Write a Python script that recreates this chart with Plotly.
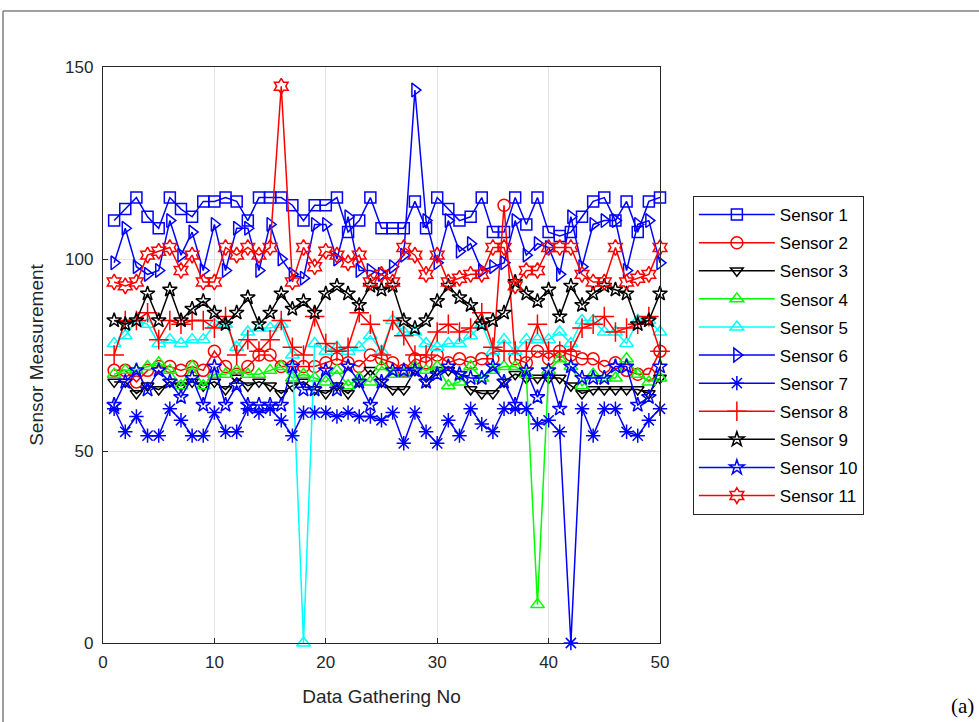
import plotly.graph_objects as go

x = list(range(1, 51))

sensor1 = [110, 113, 116, 111, 108, 116, 113, 111, 115, 115, 116, 115, 110, 116, 116, 116, 114, 110, 114, 114,
           116, 107, 110, 116, 108, 108, 108, 115, 108, 116, 113, 110, 111, 116, 107, 107, 116, 109, 116, 107,
           106, 107, 111, 115, 116, 110, 115, 107, 115, 116]
sensor2 = [71, 71, 68, 71, 72, 72, 71, 72, 71, 76, 72, 70, 72, 75, 75, 72, 72, 72, 72, 73,
           74, 73, 72, 75, 74, 73, 71, 74, 73, 75, 73, 74, 73, 74, 74, 114, 74, 73, 76, 74,
           76, 75, 74, 74, 72, 73, 71, 70, 70, 76]
sensor3 = [68, 68, 65, 67, 66, 68, 67, 68, 67, 68, 66, 69, 67, 68, 67, 65, 67, 68, 66, 65,
           67, 65, 68, 71, 68, 66, 66, 71, 68, 71, 71, 70, 66, 65, 65, 68, 70, 69, 69, 69,
           69, 67, 65, 66, 66, 66, 66, 66, 65, 69]
sensor4 = [70, 71, 71, 72, 73, 71, 67, 72, 67, 70, 70, 71, 70, 70, 71, 72, 69, 70, 69, 68,
           71, 67, 69, 68, 72, 70, 70, 72, 71, 72, 67, 68, 72, 69, 71, 72, 72, 70, 10, 71,
           74, 72, 67, 70, 69, 69, 74, 70, 68, 69]
sensor5 = [78, 80, 84, 83, 78, 79, 78, 79, 79, 83, 83, 77, 81, 82, 82, 83, 75, 0, 78, 76,
           77, 76, 77, 80, 76, 84, 81, 81, 78, 77, 78, 78, 80, 83, 76, 79, 76, 79, 79, 79,
           81, 78, 84, 84, 81, 81, 78, 84, 84, 81]
sensor6 = [99, 108, 98, 96, 97, 110, 101, 107, 97, 109, 97, 108, 108, 97, 109, 100, 96, 95, 109, 109,
           100, 111, 97, 97, 96, 98, 101, 144, 110, 99, 110, 102, 104, 97, 98, 99, 110, 101, 104, 103,
           96, 111, 98, 109, 110, 110, 97, 109, 110, 99]
sensor7 = [61, 55, 59, 54, 54, 61, 58, 54, 54, 60, 55, 55, 61, 60, 61, 58, 54, 60, 60, 60,
           59, 60, 59, 59, 58, 60, 52, 60, 55, 52, 58, 54, 61, 57, 55, 61, 61, 61, 57, 58,
           55, 0, 61, 54, 61, 61, 55, 54, 58, 61]
sensor8 = [75, 84, 84, 86, 79, 84, 83, 84, 84, 82, 85, 75, 79, 76, 79, 84, 77, 75, 85, 78,
           76, 77, 86, 83, 75, 84, 80, 75, 75, 81, 83, 81, 82, 86, 77, 76, 76, 76, 83, 76,
           76, 76, 82, 83, 85, 81, 82, 83, 85, 76]
sensor9 = [84, 83, 84, 91, 84, 92, 84, 87, 89, 86, 83, 86, 90, 83, 86, 91, 87, 89, 86, 91,
           93, 91, 88, 93, 92, 93, 84, 82, 84, 89, 93, 90, 88, 83, 84, 86, 94, 91, 89, 92,
           85, 93, 88, 91, 93, 92, 91, 83, 84, 91]
sensor10 = [62, 68, 71, 66, 71, 68, 64, 69, 62, 72, 62, 67, 62, 62, 62, 62, 72, 66, 66, 71,
            66, 72, 68, 62, 68, 71, 71, 71, 68, 70, 72, 70, 69, 69, 72, 68, 62, 71, 64, 71,
            61, 72, 69, 69, 69, 72, 72, 62, 64, 72]
sensor11 = [94, 93, 94, 101, 102, 103, 97, 101, 94, 94, 103, 101, 103, 101, 103, 145, 94, 103, 98, 102,
            101, 99, 101, 94, 96, 94, 103, 101, 96, 101, 94, 95, 96, 96, 103, 103, 93, 97, 97, 103,
            103, 103, 96, 94, 94, 103, 94, 95, 96, 103]

names = ["Sensor %d" % i for i in range(1, 12)]
series = [sensor1, sensor2, sensor3, sensor4, sensor5, sensor6, sensor7, sensor8, sensor9, sensor10, sensor11]
colors = ["#0000FF", "#FF0000", "#000000", "#00FF00", "#00FFFF", "#0000FF", "#0000FF", "#FF0000",
          "#000000", "#0000FF", "#FF0000"]
symbols = ["square-open", "circle-open", "triangle-down-open", "triangle-up-open", "triangle-up-open",
           "triangle-right-open", "asterisk-open", "cross-thin-open", "star-open", "star-open", "hexagram-open"]
sizes = [11, 12, 11, 12, 12, 12, 12, 14, 11, 11, 12]

FONT = "Liberation Sans, Arial, sans-serif"

fig = go.Figure()
for name, ys, c, s, sz in zip(names, series, colors, symbols, sizes):
    fig.add_trace(go.Scatter(
        x=x, y=ys, name=name, legendgroup=name, mode="lines+markers", cliponaxis=False,
        line=dict(color=c, width=1.5),
        marker=dict(symbol=s, size=sz, color=c, line=dict(color=c, width=1.5)),
    ))

axis_common = dict(
    showline=True, mirror=True, linecolor="#262626", linewidth=1.3,
    ticks="inside", ticklen=5, tickcolor="#262626",
    showgrid=True, gridcolor="#e3e3e3", gridwidth=1, zeroline=False,
    tickfont=dict(family=FONT, size=17, color="#262626"),
)

fig.update_xaxes(range=[0, 50], tickvals=[0, 10, 20, 30, 40, 50], ticklabelstandoff=3,
                 title=dict(text="Data Gathering No", standoff=19,
                            font=dict(family=FONT, size=19, color="#262626")),
                 **axis_common)
fig.update_yaxes(range=[0, 150], tickvals=[0, 50, 100, 150], ticklabelstandoff=5,
                 title=dict(text="Sensor Measurement", standoff=16,
                            font=dict(family=FONT, size=19, color="#262626")),
                 **axis_common)

fig.update_layout(
    width=979, height=722,
    margin=dict(l=103, r=319, t=67, b=79),
    paper_bgcolor="white", plot_bgcolor="white",
    showlegend=True,
    legend=dict(x=1.059, y=0.776, xanchor="left", yanchor="top",
                bordercolor="#262626", borderwidth=1, bgcolor="white",
                font=dict(family=FONT, size=17, color="#000000"),
                tracegroupgap=3, itemwidth=76),
    shapes=[
        dict(type="line", xref="paper", yref="paper", x0=-0.1795, x1=1.6, y0=1.0972, y1=1.0972,
             line=dict(color="#7f7f7f", width=1.5)),
        dict(type="line", xref="paper", yref="paper", x0=-0.1795, x1=-0.1795, y0=1.0972, y1=-0.2,
             line=dict(color="#7f7f7f", width=1.5)),
    ],
    annotations=[
        dict(text="(a)", xref="paper", yref="paper", x=(962 - 103) / 557, y=(643 - 706) / 576,
             xanchor="center", yanchor="middle", showarrow=False,
             font=dict(family="Liberation Serif, Times New Roman, serif", size=21, color="#000000")),
    ],
)

fig.write_html("out.html")
